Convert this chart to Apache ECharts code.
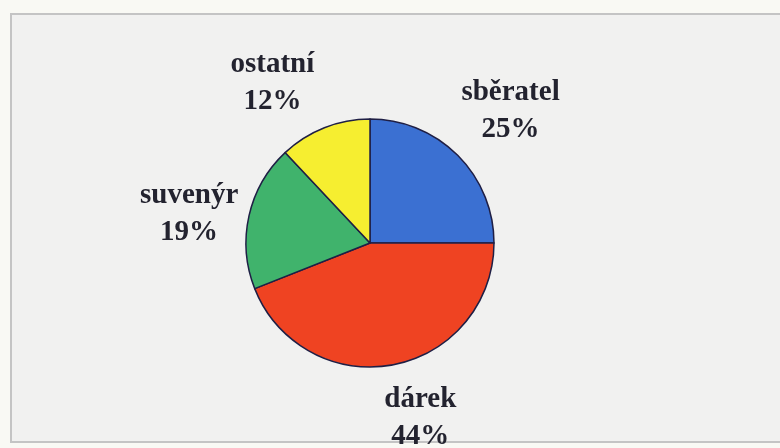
<!DOCTYPE html>
<html>
<head>
<meta charset="utf-8">
<script src="https://cdn.jsdelivr.net/npm/echarts@6/dist/echarts.min.js"></script>
<style>
html,body{margin:0;padding:0;background:#f9f9f4;}
#chart{width:780px;height:448px;}
</style>
</head>
<body>
<div id="chart"></div>
<script>
const categories = ['sběratel', 'dárek', 'suvenýr', 'ostatní'];
const values = [25, 44, 19, 12];
const colors = ['#3b70d2', '#ef4322', '#40b36c', '#f6ee30'];
// small manual label nudges (px), as in the hand-placed original labels
const labelNudge = [[-4, 0], [25, 5], [0, 5], [-6, 3]];

const CX = 370, CY = 243, R = 124, GAP = 11;
const total = values.reduce((a, b) => a + b, 0);
const midAngles = [];
let acc = 0;
values.forEach(v => { midAngles.push(Math.PI / 2 - (acc + v / 2) / total * 2 * Math.PI); acc += v; });

function anchorFactor(t) {
  const m = Math.min(1, Math.max(0, (Math.abs(t) - 0.2) / 0.15));
  return Math.sign(t) * m;
}

const chart = echarts.init(document.getElementById('chart'));
chart.setOption({
  backgroundColor: '#f9f9f4',
  animation: false,
  graphic: [{
    type: 'rect', z: -1, silent: true,
    shape: { x: 11, y: 14, width: 790, height: 428 },
    style: { fill: '#f1f1f0', stroke: '#c4c4c4', lineWidth: 2 }
  }],
  series: [{
    type: 'pie',
    center: [CX, CY],
    radius: R,
    startAngle: 90,
    clockwise: true,
    data: categories.map((c, i) => ({ name: c, value: values[i], itemStyle: { color: colors[i] } })),
    itemStyle: { borderColor: '#1f1f45', borderWidth: 1.5 },
    label: {
      show: true,
      position: 'outside',
      formatter: p => p.name + '\n' + Math.round(p.percent) + '%',
      fontFamily: '"Liberation Serif", "Times New Roman", serif',
      fontWeight: 'bold',
      fontSize: 29,
      lineHeight: 37,
      color: '#23232f',
      align: 'center'
    },
    labelLine: { show: false },
    labelLayout: function (params) {
      const i = params.dataIndex;
      const a = midAngles[i];
      const dx = Math.cos(a), dy = -Math.sin(a);
      const w = params.labelRect.width, h = params.labelRect.height;
      const px = CX + dx * (R + GAP), py = CY + dy * (R + GAP);
      return {
        x: px + anchorFactor(dx) * w / 2 + labelNudge[i][0],
        y: py + anchorFactor(dy) * h / 2 + labelNudge[i][1],
        align: 'center', verticalAlign: 'middle'
      };
    }
  }]
});
</script>
</body>
</html>
